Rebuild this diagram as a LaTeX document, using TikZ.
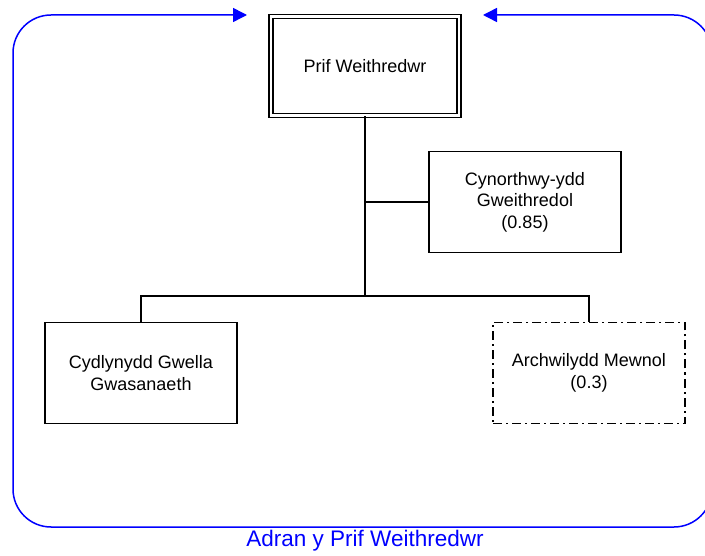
\documentclass[tikz,border=0pt]{standalone}
\usepackage{xcolor}
\usepackage{fontspec}
\setmainfont{Liberation Sans}
\usepackage{tikz}
\usetikzlibrary{positioning, arrows.meta, calc}
\definecolor{framegray}{HTML}{000000}
\definecolor{deptblue}{HTML}{0000FF}

\begin{document}
\begin{tikzpicture}[x=1pt, y=-1pt,
    post/.style={draw=framegray, line width=1.4pt, align=center,
      minimum width=192pt, minimum height=101pt,
      font=\fontsize{18}{21.5}\selectfont},
    link/.style={draw=framegray, line width=1.4pt},
    dept/.style={draw=deptblue, line width=1.5pt, rounded corners=38pt,
      {Triangle[length=14pt,width=14pt]}-{Triangle[length=14pt,width=14pt]}}]
    \useasboundingbox (0,0) rectangle (705,556);

    \node[post, double, line width=1.3pt, double distance=2.6pt,
          minimum width=188pt, minimum height=99pt] (chief) at (365,66) {Prif Weithredwr};
    \node[post] (deputy) at (525,202) {Cynorthwy-ydd\\Gweithredol\\(0.85)};
    \node[post] (service) at (141,373) {Cydlynydd Gwella\\Gwasanaeth};
    \node[post, line width=1.2pt, dash pattern=on 9pt off 4pt on 2pt off 4pt] (audit) at (589,373)
          {Archwilydd Mewnol\\(0.3)};

    \coordinate (trunk) at (365,296);
    \draw[link] (chief.south) -- (trunk);
    \draw[link] (trunk |- deputy.west) -- (deputy.west);
    \draw[link] (service.north) |- (trunk) -| (audit.north);

    % department frame
    \coordinate (intoL) at (247,15);
    \coordinate (intoR) at (483,15);
    \draw[dept] (intoL) -- (13,15) -- (13,527) -- (712,527) -- (712,15) -- (intoR);
    \node[text=deptblue, font=\fontsize{22.5}{26}\selectfont] (deptname) at (365,541) {Adran y Prif Weithredwr};
  \end{tikzpicture}
\end{document}
